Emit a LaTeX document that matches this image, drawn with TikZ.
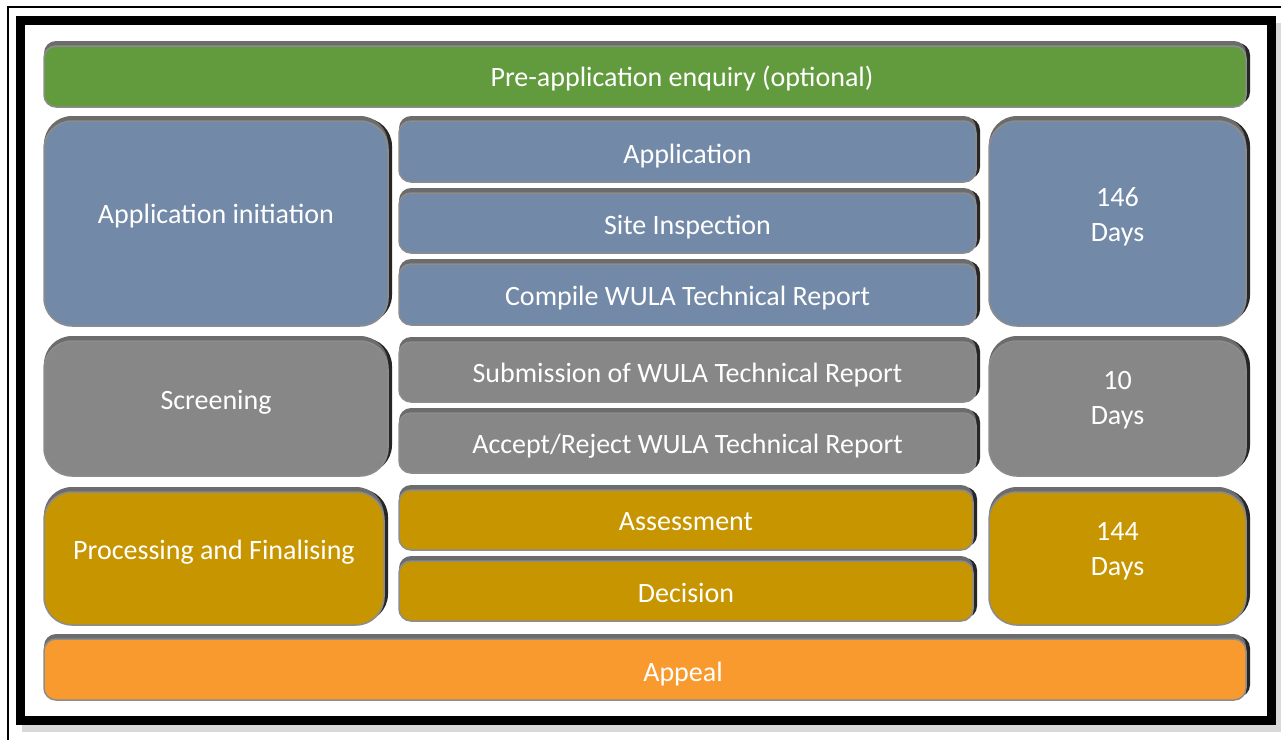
\documentclass[tikz,border=0pt]{standalone}
\usepackage{fontspec}
\setmainfont{Carlito}
\usetikzlibrary{shadows}

\definecolor{preGreen}{HTML}{629B3E}
\definecolor{initBlue}{HTML}{7389A8}
\definecolor{screenGray}{HTML}{878787}
\definecolor{procGold}{HTML}{C69500}
\definecolor{appealOrange}{HTML}{F99A2E}

% text moved right (#1) and up (#2) inside its box
\newcommand{\moved}[3]{\hspace*{#1}\raisebox{#2}[\height][\depth]{\begin{tabular}{@{}c@{}}#3\end{tabular}}\hspace*{-#1}}

\tikzset{
	stage/.style={fill=#1, draw=gray!90, line width=1.5pt, rounded corners=12pt,
		text=white, align=center, inner sep=0pt,
		font=\fontsize{28}{35}\selectfont,
		general shadow={fill=black!85, shadow xshift=4pt, shadow yshift=3pt},
		general shadow={fill=gray!85!black, shadow xshift=0pt, shadow yshift=5pt}},
	bigstage/.style={stage=#1, rounded corners=28pt},
}

\begin{document}
\begin{tikzpicture}[x=1pt,y=-1pt]
	\useasboundingbox (0,0) rectangle (1281,740);
	\def\barw{1202};
	\def\midw{577};
	% frame
	\draw[line width=1.2pt] (8,740) -- (8,7) -- (1281,7);
	\draw[line width=9pt, black!15] (26,27) rectangle (1277,727);
	\draw[line width=9pt, fill=white] (20.5,20.5) rectangle (1271,720);
	
	\node[stage=preGreen, minimum width=\barw, minimum height=61] (pre) at (645,76.5) {\moved{37pt}{-3pt}{Pre-application enquiry (optional)}};
	
	% application initiation
	\node[bigstage=initBlue, minimum width=344, minimum height=205] (init) at (216,223.5) {\moved{0pt}{7pt}{Application initiation}};
	\node[stage=initBlue, minimum width=\midw, minimum height=61] (apply) at (687.5,151.5) {\moved{0pt}{-5pt}{Application}};
	\node[stage=initBlue, minimum width=\midw, minimum height=60] (site) at (687.5,223) {\moved{0pt}{-4pt}{Site Inspection}};
	\node[stage=initBlue, minimum width=\midw, minimum height=61] (compile) at (687.5,294.5) {\moved{0pt}{-4pt}{Compile WULA Technical Report}};
	\node[bigstage=initBlue, minimum width=257, minimum height=205] (initdays) at (1117.5,223.5) {\moved{0pt}{7pt}{146\\Days}};
	
	% screening
	\node[bigstage=screenGray, minimum width=344, minimum height=135] (screen) at (216,408.5) {\moved{0pt}{6pt}{Screening}};
	\node[stage=screenGray, minimum width=\midw, minimum height=60] (submit) at (687.5,372) {\moved{0pt}{-3pt}{Submission of WULA Technical Report}};
	\node[stage=screenGray, minimum width=\midw, minimum height=60] (accept) at (687.5,443) {\moved{0pt}{-3pt}{Accept/Reject WULA Technical Report}};
	\node[bigstage=screenGray, minimum width=257, minimum height=135] (screendays) at (1117.5,408.5) {\moved{0pt}{8.5pt}{10\\Days}};
	
	% processing
	\node[bigstage=procGold, minimum width=340, minimum height=133] (proc) at (214,558.5) {\moved{0pt}{6pt}{Processing and Finalising}};
	\node[stage=procGold, minimum width=574, minimum height=60] (assess) at (686,520) {\moved{0pt}{-3pt}{Assessment}};
	\node[stage=procGold, minimum width=574, minimum height=60] (decide) at (686,591) {\moved{0pt}{-4pt}{Decision}};
	\node[bigstage=procGold, minimum width=257, minimum height=133] (procdays) at (1117.5,558.5) {\moved{0pt}{8pt}{144\\Days}};
	
	\node[stage=appealOrange, minimum width=\barw, minimum height=61] (appeal) at (645,669.5) {\moved{38pt}{-5pt}{Appeal}};
\end{tikzpicture}
\end{document}
